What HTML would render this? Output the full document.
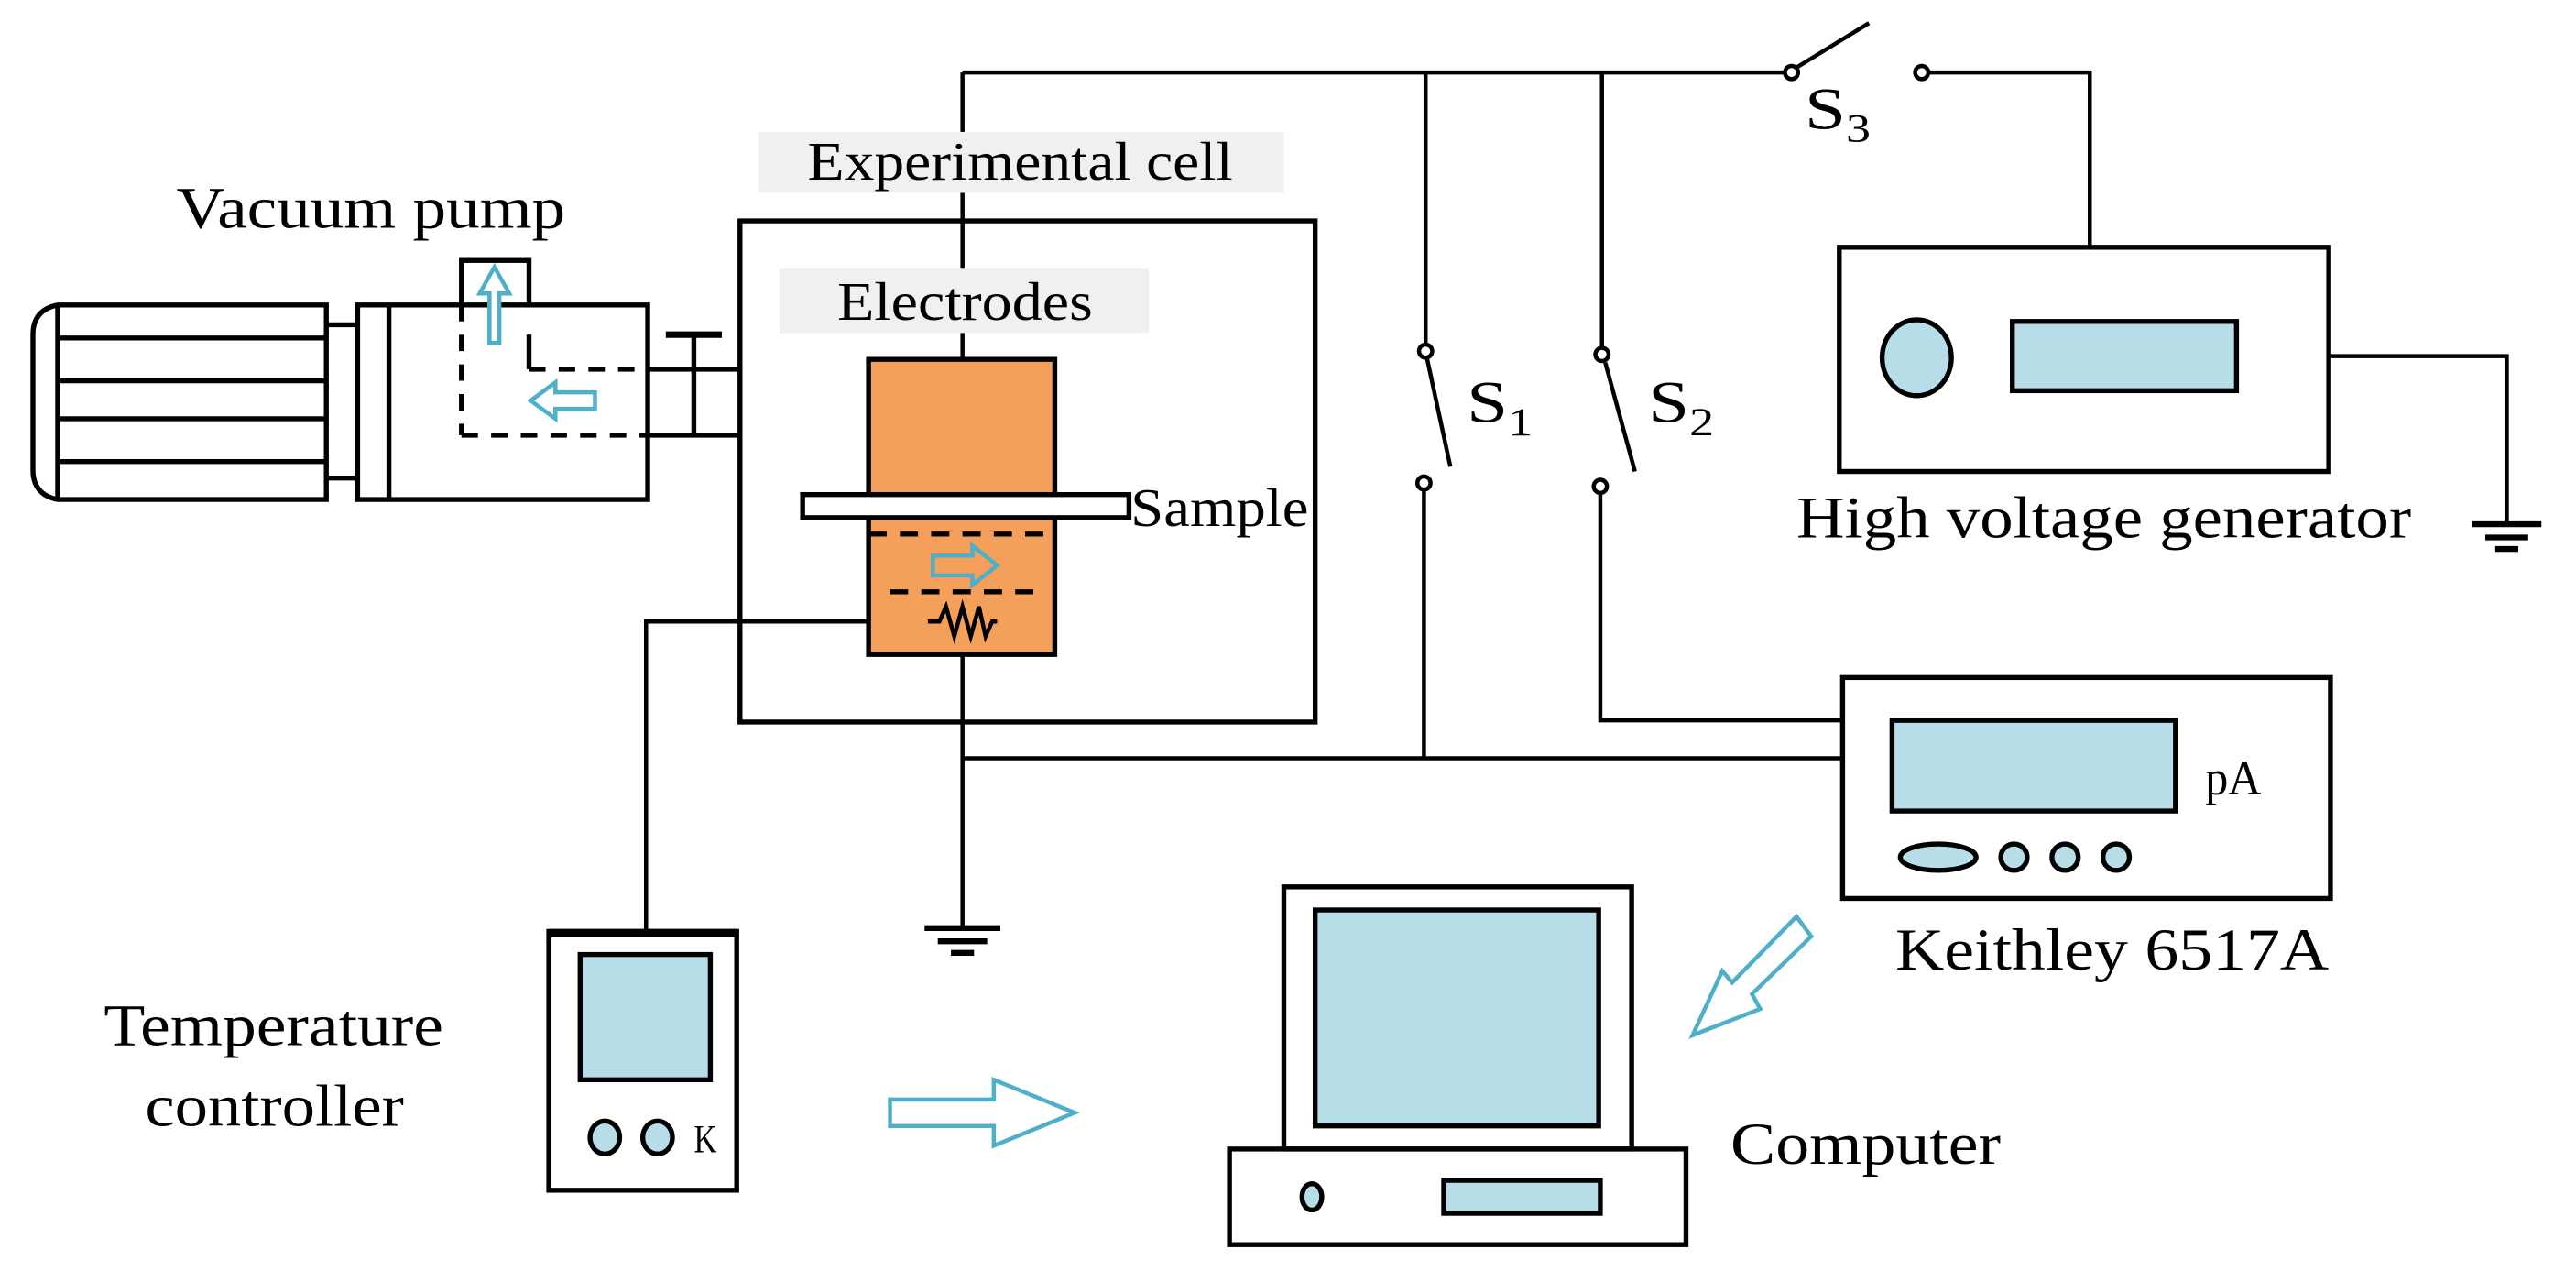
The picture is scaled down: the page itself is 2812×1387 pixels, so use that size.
<!DOCTYPE html>
<html><head><meta charset="utf-8"><style>html,body{margin:0;padding:0;background:#fff}svg{display:block}</style></head>
<body>
<svg width="2812" height="1387" viewBox="0 0 1563 771" preserveAspectRatio="none" xmlns="http://www.w3.org/2000/svg" font-family="Liberation Serif, serif" fill="none" stroke="#000">
<rect x="0" y="0" width="1563" height="771" fill="#fff" stroke="none"/>
<g stroke-width="2.5">
<polyline points="584,44 1084,44"/>
<line x1="1090" y1="41" x2="1134" y2="14"/>
<polyline points="1169,44 1268,44 1268,150"/>
<line x1="865" y1="44" x2="865" y2="210"/>
<line x1="972" y1="44" x2="972" y2="212"/>
<line x1="866" y1="218" x2="880" y2="283"/>
<line x1="974" y1="220" x2="992" y2="286"/>
<polyline points="864,297 864,460"/>
<polyline points="971,299 971,437 1118,437"/>
<polyline points="584,460 1118,460"/>
<polyline points="584,44 584,218"/>
<polyline points="584,397 584,562"/>
<polyline points="1414,216 1521,216 1521,318"/>
<polyline points="563,377 392,377 392,565"/>
</g>
<g fill="#fff" stroke-width="2.5">
<circle cx="1087" cy="44" r="4"/><circle cx="1166" cy="44" r="4"/>
<circle cx="865" cy="213" r="4"/><circle cx="864" cy="293" r="4"/>
<circle cx="972" cy="215" r="4"/><circle cx="971" cy="295" r="4"/>
</g>
<g stroke-width="3.5">
<line x1="561" y1="563" x2="607" y2="563"/><line x1="569" y1="571" x2="599" y2="571"/><line x1="577" y1="578" x2="591" y2="578"/>
<line x1="1500" y1="318" x2="1542" y2="318"/><line x1="1508" y1="326" x2="1534" y2="326"/><line x1="1514" y1="333" x2="1528" y2="333"/>
</g>
<rect x="1116" y="150" width="297" height="136" stroke-width="3" fill="#fff"/>
<ellipse cx="1163" cy="217" rx="21" ry="23" fill="#b7dde8" stroke-width="3"/>
<rect x="1221" y="195" width="136" height="42" fill="#b7dde8" stroke-width="3"/>
<rect x="449" y="134" width="349" height="304" stroke-width="3"/>
<rect x="460" y="80" width="319" height="37" fill="#f0f0f0" stroke="none"/>
<rect x="473" y="163" width="224" height="39" fill="#f0f0f0" stroke="none"/>
<rect x="527" y="218" width="113" height="179" fill="#f4a05a" stroke-width="3"/>
<rect x="487" y="300" width="198" height="14" fill="#fff" stroke-width="3"/>
<line x1="527" y1="324" x2="640" y2="324" stroke-width="3" stroke-dasharray="11,8"/>
<line x1="540" y1="359" x2="630" y2="359" stroke-width="3" stroke-dasharray="11,8"/>
<polygon points="566,337 590,337 590,331 605,343 590,355 590,349 566,349" stroke="#4eafca" stroke-width="2.5"/>
<polyline points="563,377 570,377 574,368 579,386 584,368 589,386 594,368 598,386 602,377 605,377" stroke-width="2.5"/>
<g stroke-width="3">
<path d="M35,185 L198,185 L198,303 L35,303 Q20,300 20,285 L20,203 Q20,188 35,185 Z"/>
<line x1="35" y1="185" x2="35" y2="303"/>
<line x1="35" y1="205" x2="198" y2="205"/><line x1="35" y1="231" x2="198" y2="231"/>
<line x1="35" y1="254" x2="198" y2="254"/><line x1="35" y1="280" x2="198" y2="280"/>
<line x1="198" y1="197" x2="217" y2="197"/><line x1="198" y1="290" x2="217" y2="290"/>
<rect x="217" y="185" width="176" height="118"/>
<line x1="236" y1="185" x2="236" y2="303"/>
<rect x="280" y="158" width="41" height="27" fill="#fff"/>
<line x1="280" y1="185" x2="280" y2="264" stroke-dasharray="10,8"/>
<line x1="321" y1="203" x2="321" y2="224"/>
<line x1="321" y1="224" x2="393" y2="224" stroke-dasharray="10,8"/>
<line x1="280" y1="264" x2="393" y2="264" stroke-dasharray="10,8"/>
<line x1="393" y1="224" x2="449" y2="224"/><line x1="393" y1="264" x2="449" y2="264"/>
<line x1="421" y1="203" x2="421" y2="264"/>
<line x1="404" y1="203" x2="438" y2="203" stroke-width="4"/>
</g>
<polygon points="297,208 303,208 303,178 309,178 300,162 291,178 297,178" stroke="#4eafca" stroke-width="2.5" fill="#fff"/>
<polygon points="361,238 337,238 337,232 322,243 337,254 337,248 361,248" stroke="#4eafca" stroke-width="2.5"/>
<rect x="333" y="565" width="114" height="157" stroke-width="3"/>
<line x1="333" y1="566" x2="447" y2="566" stroke-width="5"/>
<rect x="352" y="579" width="79" height="76" fill="#b7dde8" stroke-width="3"/>
<ellipse cx="367" cy="690" rx="9" ry="10" fill="#b7dde8" stroke-width="3"/>
<ellipse cx="399" cy="690" rx="9" ry="10" fill="#b7dde8" stroke-width="3"/>
<rect x="1118" y="411" width="296" height="134" stroke-width="3"/>
<rect x="1148" y="437" width="172" height="55" fill="#b7dde8" stroke-width="3"/>
<ellipse cx="1176" cy="520" rx="23" ry="8" fill="#b7dde8" stroke-width="3"/>
<circle cx="1222" cy="520" r="8" fill="#b7dde8" stroke-width="3"/>
<circle cx="1253" cy="520" r="8" fill="#b7dde8" stroke-width="3"/>
<circle cx="1284" cy="520" r="8" fill="#b7dde8" stroke-width="3"/>
<rect x="779" y="538" width="211" height="159" stroke-width="3"/>
<rect x="798" y="552" width="172" height="131" fill="#b7dde8" stroke-width="3"/>
<rect x="746" y="697" width="277" height="58" stroke-width="3"/>
<ellipse cx="796" cy="726" rx="6" ry="8" fill="#b7dde8" stroke-width="3"/>
<rect x="876" y="716" width="95" height="20" fill="#b7dde8" stroke-width="3"/>
<polygon points="540,667 603,667 603,655 652,675 603,695 603,683 540,683" stroke="#4eafca" stroke-width="2.5"/>
<polygon points="1090,556 1099,568 1063,603 1068,612 1027,628 1045,589 1051,596" stroke="#4eafca" stroke-width="2.5"/>
<g fill="#000" stroke="none" font-size="36">
<text x="107" y="138" textLength="236" lengthAdjust="spacingAndGlyphs">Vacuum pump</text>
<text x="490" y="109" textLength="258" lengthAdjust="spacingAndGlyphs" font-size="33">Experimental cell</text>
<text x="508" y="194" textLength="155" lengthAdjust="spacingAndGlyphs" font-size="33">Electrodes</text>
<text x="686" y="319" textLength="108" lengthAdjust="spacingAndGlyphs" font-size="33">Sample</text>
<text x="1090" y="326" textLength="373" lengthAdjust="spacingAndGlyphs">High voltage generator</text>
<text x="1150" y="588" textLength="263" lengthAdjust="spacingAndGlyphs">Keithley 6517A</text>
<text x="1050" y="706" textLength="164" lengthAdjust="spacingAndGlyphs">Computer</text>
<text x="63" y="634" textLength="206" lengthAdjust="spacingAndGlyphs">Temperature</text>
<text x="88" y="683" textLength="157" lengthAdjust="spacingAndGlyphs">controller</text>
<text x="1338" y="482" font-size="30" textLength="34" lengthAdjust="spacingAndGlyphs">pA</text>
<text x="421" y="699" font-size="24" textLength="14" lengthAdjust="spacingAndGlyphs">K</text>
<text x="1095" y="78" font-size="36" textLength="40" lengthAdjust="spacingAndGlyphs">S<tspan font-size="24" dy="8">3</tspan></text>
<text x="890" y="256" font-size="36" textLength="40" lengthAdjust="spacingAndGlyphs">S<tspan font-size="24" dy="8">1</tspan></text>
<text x="1000" y="256" font-size="36" textLength="40" lengthAdjust="spacingAndGlyphs">S<tspan font-size="24" dy="8">2</tspan></text>
</g>
</svg>
</body></html>
